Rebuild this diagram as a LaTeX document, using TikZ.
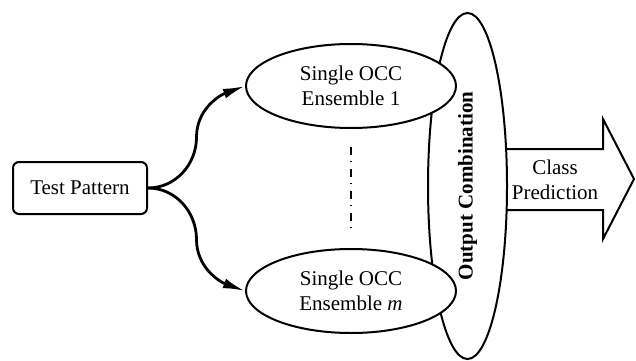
\documentclass[tikz,border=0pt]{standalone}
\usepackage{fontspec}
\setmainfont{Liberation Serif}
\usepackage{tikz}
\usetikzlibrary{arrows.meta,shapes,positioning,calc}

\begin{document}
\begin{tikzpicture}[
        x=0.5pt, y=0.5pt,
        font=\fontsize{10.5}{12.4}\selectfont,
        pattern/.style={
                draw=black,
                line width=1pt,
                rounded corners=3pt,
                minimum width=67pt,
                minimum height=26pt,
                text centered
            },
        ensemble/.style={
                ellipse,
                draw=black,
                fill=white,
                line width=1pt,
                minimum width=105pt,
                minimum height=42pt,
                inner sep=0pt,
                align=center
            },
        combiner/.style={
                ellipse,
                draw=black,
                fill=white,
                line width=1pt,
                minimum width=39.5pt,
                minimum height=173pt,
                inner sep=0pt
            },
        link/.style={
                line width=1.4pt,
                -{Latex[length=11pt,width=5pt]}
            },
        dots/.style={
                line width=1pt,
                dash pattern=on 4pt off 3pt on 0.5pt off 3.5pt,
                shorten <=9pt,
                shorten >=10pt
            },
        output/.style={
                draw=black,
                line width=1pt,
                line join=miter
            }
    ]
    \useasboundingbox (0,0) rectangle (636,360);
    %combination
    \node[combiner] (comb) at (467.5,174) {};
    \node[rotate=90, font=\fontsize{10.5}{12.4}\selectfont\bfseries] (combtext) at (comb.center) {Output Combination};
    %ensembles
    \node[ensemble] (ens1) at (351,274) {Single OCC\\Ensemble 1};
    \node[ensemble, below=59.5pt of ens1] (ensm) {Single OCC\\Ensemble \textit{m}};
    \draw[dots] (ens1.south) -- (ensm.north);
    %input
    \node[pattern] (test) at (80,172) {Test Pattern};
    \draw[link] (test.east) to[out=0,in=-90] ($(test.east)!0.5!(ens1.west)$) to[out=90,in=200] (ens1.west);
    \draw[link] (test.east) to[out=0,in=90] ($(test.east)!0.5!(ensm.west)$) to[out=-90,in=160] (ensm.west);
    %prediction
    \draw[output] (507,211) -- (603,211) -- (603,241) -- (634,181) -- (603,121) -- (603,150) -- (507,150);
    \node[align=center] (pred) at (555,180) {Class\\Prediction};
\end{tikzpicture}
\end{document}
